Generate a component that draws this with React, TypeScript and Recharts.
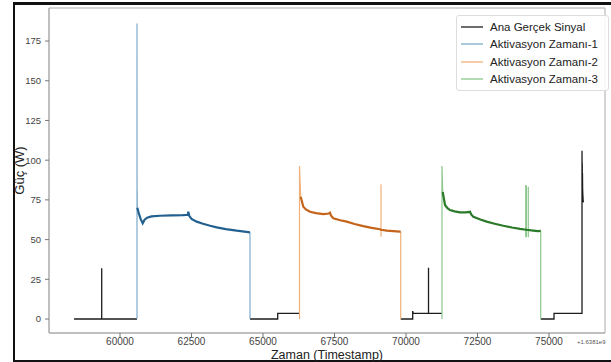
import { LineChart, Line, XAxis, YAxis, Legend, Label, ReferenceArea } from 'recharts'

// zaman ekseni 1.6381e9 ofsetli gösteriliyor
const xTicks = [60000, 62500, 65000, 67500, 70000, 72500, 75000]
const yTicks = [0, 25, 50, 75, 100, 125, 150, 175]
const seriesNames = ['Ana Gerçek Sinyal', 'Aktivasyon Zamanı-1', 'Aktivasyon Zamanı-2', 'Aktivasyon Zamanı-3']

// ana sinyal (aktivasyon dışındaki kısımlar), null = kesinti
const signalTime = [58392, 59360, 59360, 59360, 60594, 62000, 64545, 65514, 65514, 66276, 68000, 69815, 70234, 70234, 70250, 70787, 70787, 70787, 71258, 73000, 74710, 75175, 75175, 76154, 76154, 76158, 76162, 76166, 76170, 76176, 76184, 76194, 76205]
const signalPower = [0, 0, 32, 0, 0, null, 0, 0, 3.5, 3.5, null, 0, 0, 5, 3.5, 3.5, 32.3, 3.5, 3.5, null, 0, 0, 3.5, 3.5, 106, 95, 98, 88, 92, 82, 78, 74.5, 73.5]

// aktivasyon 1
const act1EdgeTime = [60594, 60594, 60597, 60600, 60605, 62000, 64545, 64545]
const act1EdgePower = [0, 186, 70, 81, 70, null, 54.6, 0]
const act1Time = [60605, 60650, 60720, 60794, 60860, 60950, 61100, 61400, 61800, 62200, 62370, 62388, 62420, 62500, 62680, 62900, 63150, 63380, 63700, 64080, 64350, 64545]
const act1Power = [70, 67, 63, 60.2, 62.5, 63.8, 64.6, 65, 65.2, 65.4, 65.6, 67.5, 65, 63, 61.3, 60, 58.7, 57.7, 56.6, 55.6, 55, 54.6]

// aktivasyon 2
const act2EdgeTime = [66276, 66276, 66318, 67000, 69126, 69126, 69126, 69126, 69500, 69815, 69815]
const act2EdgePower = [0, 96.3, 77, null, 56.5, 84.8, 51.8, 56.4, null, 55, 0]
const act2Time = [66318, 66409, 66500, 66643, 66850, 67108, 67300, 67343, 67380, 67458, 67700, 67927, 68200, 68507, 68800, 69091, 69126, 69325, 69550, 69790, 69815]
const act2Power = [77, 70.7, 69, 67.5, 66.7, 66.1, 66.4, 66.9, 65, 63.4, 62.2, 61.3, 59.8, 58.5, 57.4, 56.5, 56.2, 55.6, 55.3, 55, 55]

// aktivasyon 3
const act3EdgeTime = [71258, 71258, 71283, 72000, 74186, 74186, 74186, 74186, 74210, 74210, 74210, 74210, 74240, 74276, 74276, 74276, 74276, 74500, 74710, 74710]
const act3EdgePower = [0, 96.3, 80, null, 56.3, 84.3, 51.4, 56.3, 56.2, 84, 51.6, 56.2, null, 56, 83.3, 51.4, 56, null, 55.5, 0]
const act3Time = [71283, 71364, 71450, 71538, 71700, 71888, 72100, 72238, 72280, 72354, 72600, 72822, 73100, 73402, 73700, 73986, 74200, 74451, 74600, 74710]
const act3Power = [80, 71.8, 69.8, 68.6, 67.8, 67.2, 67.2, 67.5, 65.8, 64.4, 62.6, 61.3, 60, 58.7, 57.6, 56.7, 56.2, 55.6, 55.3, 55.5]

const toPoints = (t: number[], p: (number | null)[]) => t.map((x, i) => ({ t: x, p: p[i] }))

const font = '"Liberation Sans", Arial, sans-serif'

function LegendBox({ payload }: any) {
  const items = seriesNames
    .map((n) => (payload || []).find((e: any) => e.value === n))
    .filter(Boolean)
  return (
    <div
      style={{
        border: '1px solid #ddd',
        borderRadius: 3,
        background: 'rgba(255,255,255,0.85)',
        padding: '2px 10px 2px 4px',
        fontFamily: font,
      }}
    >
      {items.map((e: any) => (
        <div key={e.value} style={{ display: 'flex', alignItems: 'center', height: 17.5 }}>
          <svg width={22} height={4} style={{ marginRight: 7 }}>
            <line x1={0} y1={2} x2={22} y2={2} stroke={e.color} strokeWidth={1.3} />
          </svg>
          <span style={{ fontSize: 11.5, color: '#222', whiteSpace: 'nowrap' }}>{e.value}</span>
        </div>
      ))}
    </div>
  )
}

export default function App() {
  const xDomain = [57517, 76958]
  const yDomain = [-8.8, 195.8]
  return (
    <div style={{ position: 'absolute', left: 0, top: 0, width: 611, height: 362, background: '#fff', overflow: 'hidden' }}>
      <div
        style={{
          position: 'absolute',
          left: 13,
          top: 2,
          width: 640,
          height: 360,
          boxSizing: 'border-box',
          borderTop: '3px solid #111',
          borderLeft: '2px solid #111',
          borderBottom: '2px solid #111',
        }}
      />
      <div style={{ position: 'absolute', left: 0, top: 0 }}>
        <LineChart width={611} height={362} margin={{ top: 8, right: 6, left: 0, bottom: 0 }} style={{ fontFamily: font }}>
          <XAxis
            dataKey="t"
            type="number"
            domain={xDomain}
            ticks={xTicks}
            allowDataOverflow
            height={29}
            tick={{ fill: '#444', fontSize: 10 }}
            tickLine={{ stroke: '#777' }}
            tickSize={4}
            tickMargin={1}
            axisLine={{ stroke: '#aaa' }}
          >
            <Label value="Zaman (Timestamp)" position="insideBottom" offset={3.5} style={{ fontSize: 12.5, fill: '#222' }} />
          </XAxis>
          <YAxis
            type="number"
            domain={yDomain}
            ticks={yTicks}
            allowDataOverflow
            width={49}
            tick={{ fill: '#444', fontSize: 9.5 }}
            tickLine={{ stroke: '#777' }}
            tickSize={4}
            tickMargin={4}
            axisLine={{ stroke: '#aaa' }}
          >
            <Label value="Güç (W)" angle={-90} position="center" dx={-5} style={{ fontSize: 13, fill: '#222' }} />
          </YAxis>
          <ReferenceArea x1={xDomain[0]} x2={xDomain[1]} y1={yDomain[0]} y2={yDomain[1]} fill="none" stroke="#aaa" />
          <Line data={toPoints(signalTime, signalPower)} dataKey="p" name={seriesNames[0]} stroke="#1c1c1c" strokeWidth={1.3} dot={false} activeDot={false} isAnimationActive={false} />
          <Line data={toPoints(act1EdgeTime, act1EdgePower)} dataKey="p" name={seriesNames[1]} stroke="#7eaacb" strokeWidth={1.2} dot={false} activeDot={false} isAnimationActive={false} />
          <Line data={toPoints(act1Time, act1Power)} dataKey="p" name="a1" legendType="none" stroke="#21608f" strokeWidth={2.2} dot={false} activeDot={false} isAnimationActive={false} />
          <Line data={toPoints(act2EdgeTime, act2EdgePower)} dataKey="p" name={seriesNames[2]} stroke="#f0b07a" strokeWidth={1.2} dot={false} activeDot={false} isAnimationActive={false} />
          <Line data={toPoints(act2Time, act2Power)} dataKey="p" name="a2" legendType="none" stroke="#c4641a" strokeWidth={2.2} dot={false} activeDot={false} isAnimationActive={false} />
          <Line data={toPoints(act3EdgeTime, act3EdgePower)} dataKey="p" name={seriesNames[3]} stroke="#8cc68c" strokeWidth={1.2} dot={false} activeDot={false} isAnimationActive={false} />
          <Line data={toPoints(act3Time, act3Power)} dataKey="p" name="a3" legendType="none" stroke="#2a7a2a" strokeWidth={2.2} dot={false} activeDot={false} isAnimationActive={false} />
          <Legend
            layout="vertical"
            align="center"
            verticalAlign="middle"
            wrapperStyle={{ left: 456, top: 15, width: 'auto', height: 'auto' }}
            content={<LegendBox />}
          />
        </LineChart>
      </div>
      <div style={{ position: 'absolute', left: 577, top: 339, fontSize: 6, color: '#555', fontFamily: font, whiteSpace: 'nowrap' }}>+1.6381e9</div>
    </div>
  )
}
